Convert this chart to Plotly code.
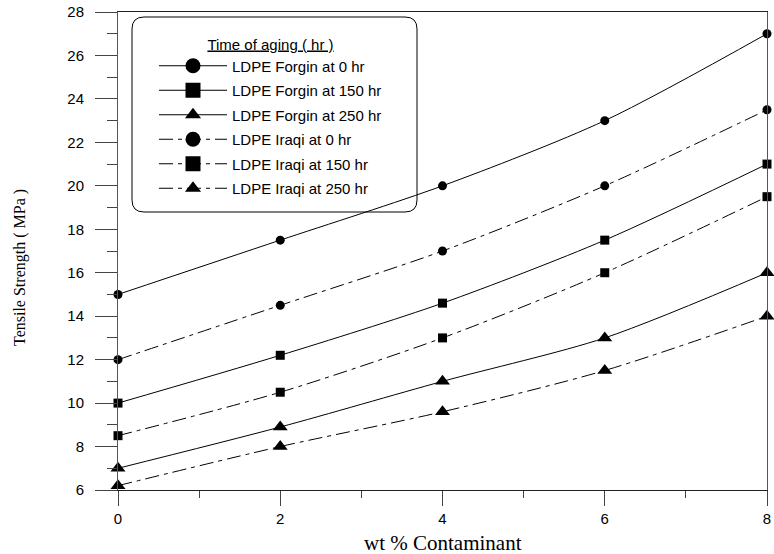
import plotly.graph_objects as go

# ---- data ----
x_wt = [0, 2, 4, 6, 8]
forgin_0 = [15, 17.5, 20, 23, 27]
forgin_150 = [10, 12.2, 14.6, 17.5, 21]
forgin_250 = [7, 8.9, 11, 13, 16]
iraqi_0 = [12, 14.5, 17, 20, 23.5]
iraqi_150 = [8.5, 10.5, 13, 16, 19.5]
iraqi_250 = [6.2, 8, 9.6, 11.5, 14]

series_names = [
    "LDPE Forgin at 0 hr",
    "LDPE Forgin at 150 hr",
    "LDPE Forgin at 250 hr",
    "LDPE Iraqi at 0 hr",
    "LDPE Iraqi at 150 hr",
    "LDPE Iraqi at 250 hr",
]
series_values = [forgin_0, forgin_150, forgin_250, iraqi_0, iraqi_150, iraqi_250]

x_tickvals = [0, 2, 4, 6, 8]
x_minorvals = [1, 3, 5, 7]
y_tickvals = [6, 8, 10, 12, 14, 16, 18, 20, 22, 24, 26, 28]
y_minorvals = [7, 9, 11, 13, 15, 17, 19, 21, 23, 25, 27]

legend_title = "Time of aging ( hr )"
x_title = "wt % Contaminant"
y_title = "Tensile Strength ( MPa )"

# ---- styles ----
symbols = ["circle", "square", "triangle-up", "circle", "square", "triangle-up"]
sizes = [9, 9, 13, 9, 9, 13]
legend_sizes = [15, 15, 14, 15, 15, 14]
DASHDOT = "14px,5px,4px,5px"
dashes = ["solid", "solid", "solid", DASHDOT, DASHDOT, DASHDOT]

SANS = "Liberation Sans, Arial, sans-serif"
SERIF = "Liberation Serif, Times New Roman, serif"

fig = go.Figure()

for name, vals, sym, sz, dash in zip(series_names, series_values, symbols, sizes, dashes):
    fig.add_trace(go.Scatter(
        x=x_wt, y=vals, mode="lines+markers", name=name,
        line=dict(color="black", width=1, dash=dash, shape="spline", smoothing=0.8),
        marker=dict(symbol=sym, size=sz, color="black", line=dict(width=0)),
        showlegend=False, cliponaxis=False,
    ))

# legend proxies (bigger symbols like the reference legend)
for i, (name, sym, sz, dash) in enumerate(zip(series_names, symbols, legend_sizes, dashes)):
    fig.add_trace(go.Scatter(
        x=[None], y=[None], mode="lines+markers", name=name,
        line=dict(color="black", width=1, dash=dash),
        marker=dict(symbol=sym, size=sz, color="black", line=dict(width=0)),
        showlegend=True, legendgroup=f"g{i}",
    ))

W, H = 774, 554
ml, mr, mt, mb = 118, 7, 12, 64
pw, ph = W - ml - mr, H - mt - mb


def px(xpix):
    return (xpix - ml) / pw


def py(ypix):
    return (H - mb - ypix) / ph


# rounded legend box
x0, x1, y0, y1 = px(132), px(417), py(212), py(17)
rx, ry = 12 / pw, 12 / ph
path = (f"M{x0+rx},{y1} L{x1-rx},{y1} Q{x1},{y1} {x1},{y1-ry} "
        f"L{x1},{y0+ry} Q{x1},{y0} {x1-rx},{y0} "
        f"L{x0+rx},{y0} Q{x0},{y0} {x0},{y0+ry} "
        f"L{x0},{y1-ry} Q{x0},{y1} {x0+rx},{y1} Z")

fig.add_shape(type="path", path=path, xref="paper", yref="paper",
              line=dict(color="black", width=1), fillcolor="white", layer="below")

fig.update_layout(
    width=W, height=H,
    margin=dict(l=ml, r=mr, t=mt, b=mb, autoexpand=False),
    paper_bgcolor="white", plot_bgcolor="white",
    font=dict(family=SANS, size=14, color="black"),
    showlegend=True,
    legend=dict(
        x=px(154), y=py(30), xanchor="left", yanchor="top",
        bgcolor="rgba(0,0,0,0)", borderwidth=0,
        font=dict(family=SANS, size=15, color="black"),
        title=dict(text=f"<u>{legend_title}</u>", side="top center",
                   font=dict(family=SANS, size=15, color="black")),
        itemwidth=68, tracegroupgap=2,
    ),
    xaxis=dict(
        range=[0, 8], showgrid=False, zeroline=False,
        showline=True, linecolor="#222", linewidth=1, mirror=True,
        ticks="outside", ticklen=15, tickwidth=1, tickcolor="#444",
        tickvals=x_tickvals, ticktext=[str(v) for v in x_tickvals],
        tickfont=dict(family=SANS, size=15, color="black"),
        minor=dict(ticks="outside", ticklen=7, tickwidth=1, tickcolor="#444",
                   tickvals=x_minorvals, showgrid=False),
    ),
    yaxis=dict(
        range=[6, 28], showgrid=False, zeroline=False,
        showline=True, linecolor="#555", linewidth=1, mirror=True,
        ticks="outside", ticklen=22, tickwidth=1, tickcolor="#444",
        tickvals=y_tickvals, ticktext=[str(v) for v in y_tickvals],
        tickfont=dict(family=SANS, size=15, color="black"),
        ticklabelstandoff=8,
        minor=dict(ticks="outside", ticklen=10, tickwidth=1, tickcolor="#444",
                   tickvals=y_minorvals, showgrid=False),
    ),
    annotations=[
        dict(text=x_title, xref="paper", yref="paper", x=0.5 * (px(351) + px(534)),
             y=py(543), xanchor="center", yanchor="middle", showarrow=False,
             font=dict(family=SERIF, size=21, color="black")),
        dict(text=y_title, xref="paper", yref="paper", x=px(20), y=py(268),
             xanchor="center", yanchor="middle", textangle=-90, showarrow=False,
             font=dict(family=SERIF, size=16, color="black")),
    ],
)

fig.write_html("out.html")
